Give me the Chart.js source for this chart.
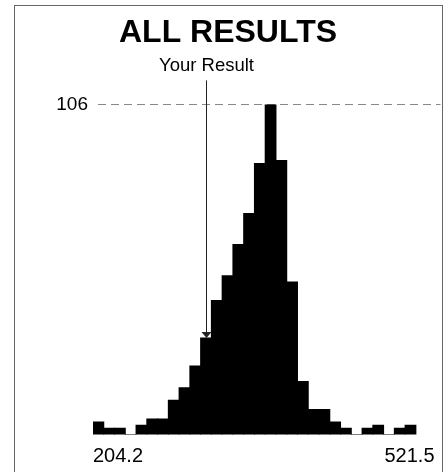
<!DOCTYPE html>
<html>
<head>
<meta charset="utf-8">
<script src="https://cdn.jsdelivr.net/npm/chart.js@4/dist/chart.umd.min.js"></script>
<style>
  html, body { margin: 0; padding: 0; background: #fff; overflow: hidden; width: 447px; height: 472px; }
  #frame { position: absolute; left: 14px; top: 5px; width: 429px; height: 480px; border: 1px solid #666; box-sizing: border-box; }
  #wrap { position: absolute; left: 12px; top: 5px; width: 432px; height: 476px; }
</style>
</head>
<body>
<div id="frame"></div>
<div id="wrap"><canvas id="c"></canvas></div>
<script>
// ---- data ----
const chartTitle = 'ALL RESULTS';
const binCenters = [209.2, 219.2, 229.2, 239.2, 249.2, 259.2, 269.2, 279.2, 289.2, 299.2,
                    309.2, 319.2, 329.2, 339.2, 349.2, 359.2, 369.2, 379.2, 389.2, 399.2,
                    409.2, 419.2, 429.2, 439.2, 449.2, 459.2, 469.2, 479.2, 489.2, 499.2];
const counts = [4, 2, 2, 0, 3, 5, 5, 11, 15, 22,
                31, 43, 51, 61, 71, 87, 106, 88, 49, 17,
                8, 8, 4, 2, 0, 2, 3, 0, 2, 3];
const xTickLabels = [204.2, 521.5];
const xMin = 204.2;
const xMax = 521.5;
const yTickLabels = [106];
const yourResult = 309.5;
const yourResultLabel = 'Your Result';

const FONT = '"Liberation Sans", Arial, Helvetica, sans-serif';

const overlay = {
  id: 'overlay',
  beforeDatasetsDraw(chart) {
    const { ctx, chartArea, scales } = chart;
    const y = scales.y.getPixelForValue(yTickLabels[0]);
    ctx.save();
    ctx.strokeStyle = '#888';
    ctx.lineWidth = 1;
    ctx.setLineDash([8, 5]);
    ctx.beginPath();
    ctx.moveTo(chartArea.left + 5, Math.round(y) + 0.5);
    ctx.lineTo(chartArea.right + 6, Math.round(y) + 0.5);
    ctx.stroke();
    ctx.restore();
  },
  afterDatasetsDraw(chart) {
    const { ctx, chartArea, scales } = chart;
    const x = scales.x.getPixelForValue(yourResult);
    const meta = chart.getDatasetMeta(0);
    let tipY = chartArea.bottom;
    meta.data.forEach((bar) => {
      const half = bar.width / 2;
      if (x >= bar.x - half && x < bar.x + half) tipY = bar.y;
    });
    const topY = chartArea.top - 24;
    const px = Math.round(x) + 0.5;
    ctx.save();
    ctx.strokeStyle = '#222';
    ctx.fillStyle = '#222';
    ctx.lineWidth = 1;
    ctx.beginPath();
    ctx.moveTo(px, topY);
    ctx.lineTo(px, tipY - 5);
    ctx.stroke();
    ctx.beginPath();
    ctx.moveTo(px - 5, tipY - 6);
    ctx.lineTo(px + 5, tipY - 6);
    ctx.lineTo(px, tipY);
    ctx.closePath();
    ctx.fill();
    ctx.fillStyle = '#000';
    ctx.font = '18.5px ' + FONT;
    ctx.textAlign = 'center';
    ctx.textBaseline = 'middle';
    ctx.fillText(yourResultLabel, px, chartArea.top - 38);
    ctx.restore();
  }
};

new Chart(document.getElementById('c'), {
  type: 'bar',
  data: {
    labels: binCenters,
    datasets: [{
      data: counts,
      backgroundColor: '#000',
      borderWidth: 0,
      inflateAmount: 0.5,
      barPercentage: 1.0,
      categoryPercentage: 1.0
    }]
  },
  options: {
    responsive: true,
    maintainAspectRatio: false,
    animation: false,
    events: [],
    layout: { autoPadding: false, padding: { top: 0, bottom: 3.5, left: 0, right: 0 } },
    plugins: {
      legend: { display: false },
      tooltip: { enabled: false },
      title: {
        display: true,
        text: chartTitle,
        color: '#000',
        font: { family: FONT, size: 32, weight: 'bold', lineHeight: 1.2 },
        padding: { top: 9, bottom: 52 }
      }
    },
    scales: {
      x: {
        type: 'linear',
        min: xMin,
        max: xMax,
        offset: false,
        grid: { display: false, drawTicks: false },
        border: { display: false },
        afterBuildTicks: (scale) => { scale.ticks = xTickLabels.map(v => ({ value: v })); },
        ticks: {
          autoSkip: false,
          maxRotation: 0,
          align: 'inner',
          padding: 9.5,
          color: '#000',
          font: { family: FONT, size: 20 },
          callback: (v) => Number(v).toFixed(1)
        }
      },
      y: {
        min: 0,
        max: 106,
        grid: { display: false, drawTicks: false },
        border: { display: false },
        afterBuildTicks: (scale) => { scale.ticks = yTickLabels.map(v => ({ value: v })); },
        afterFit: (scale) => { scale.width = 81; },
        ticks: {
          padding: 5,
          color: '#000',
          font: { family: FONT, size: 19 }
        }
      },
      yRight: {
        position: 'right',
        display: true,
        grid: { display: false, drawTicks: false },
        border: { display: false },
        ticks: { display: false },
        afterFit: (scale) => { scale.width = 0.5; }
      }
    }
  },
  plugins: [overlay]
});
</script>
</body>
</html>
